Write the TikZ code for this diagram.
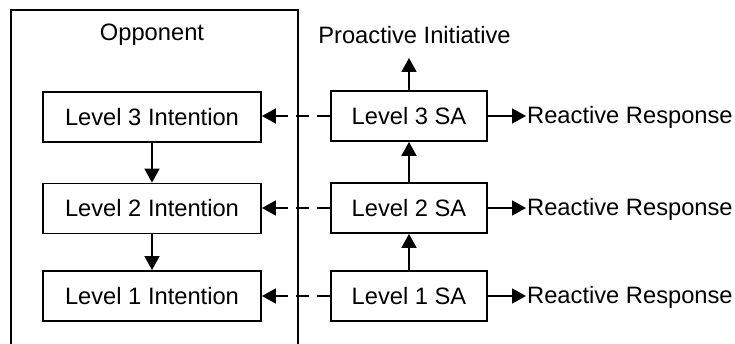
\documentclass[tikz,border=0pt]{standalone}
\usepackage{fontspec}
\setmainfont{Liberation Sans}
\usetikzlibrary{arrows.meta}
\begin{document}
\begin{tikzpicture}[x=1pt,y=-1pt,
  every node/.style={font=\fontsize{23.7}{28}\selectfont},
  box/.style={draw,line width=1.8pt,minimum width=218pt,minimum height=50pt,inner sep=0pt},
  sabox/.style={draw,line width=1.8pt,minimum width=156pt,minimum height=50pt,inner sep=0pt},
  arr/.style={line width=1.8pt,-{Triangle[length=14pt,width=15pt]}},
  darr/.style={arr,dash pattern=on 13pt off 8pt}]
\useasboundingbox (0,0) rectangle (735,344);
\begin{scope}
\clip (0,0) rectangle (735,344);
% opponent frame, open past the bottom edge
\draw[line width=1.8pt] (11,10) rectangle (298,380);
\end{scope}
\node (opp) at (152,35) {Opponent};
\node (pro) at (414.5,35) {Proactive Initiative};
\coordinate (protip) at (409,58);

\node[box] (i3) at (152,117) {Level 3 Intention};
\node[box] (i2) at (152,208.5) {Level 2 Intention};
\node[box] (i1) at (152,296) {Level 1 Intention};

\node[sabox] (s3) at (409,116) {Level 3 SA};
\node[sabox] (s2) at (409,208) {Level 2 SA};
\node[sabox] (s1) at (409,296) {Level 1 SA};

\node[anchor=west,inner sep=0pt] (r3) at (527,117) {Reactive Response};
\node[anchor=west,inner sep=0pt] (r2) at (527,209) {Reactive Response};
\node[anchor=west,inner sep=0pt] (r1) at (527,297) {Reactive Response};

\draw[arr] (i3) -- (i2);
\draw[arr] (i2) -- (i1);
\draw[arr] (s1) -- (s2);
\draw[arr] (s2) -- (s3);
\draw[arr] (s3) -- (protip);

\draw[darr] (s3) -- (i3.east |- s3);
\draw[darr] (s2) -- (i2.east |- s2);
\draw[darr] (s1) -- (i1);

\draw[arr] (s3.east) -- ([xshift=-1pt]r3.west |- s3.east);
\draw[arr] (s2.east) -- ([xshift=-1pt]r2.west |- s2.east);
\draw[arr] (s1.east) -- ([xshift=-1pt]r1.west |- s1.east);
\end{tikzpicture}
\end{document}
